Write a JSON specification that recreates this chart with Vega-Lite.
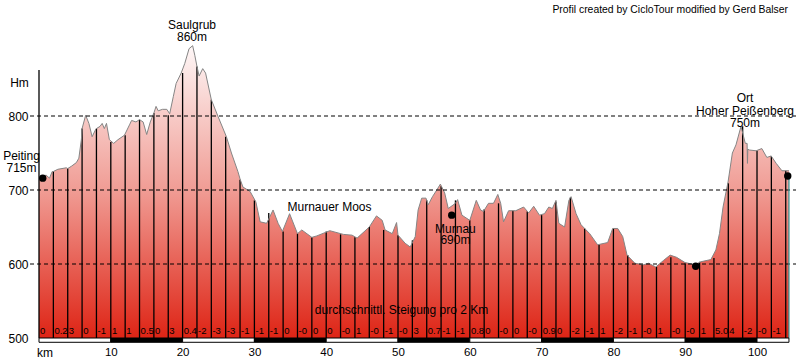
{
  "$schema": "https://vega.github.io/schema/vega-lite/v6.json",
  "width": 757,
  "height": 338,
  "autosize": "none",
  "padding": {"left": 39, "top": 0, "right": 0, "bottom": 23},
  "background": "white",
  "config": {
    "view": {"stroke": null},
    "font": "Liberation Sans",
    "axis": {"domain": false, "ticks": false, "grid": false, "labelColor": "#000000", "labelFont": "Liberation Sans"}
  },
  "datasets": {
    "profile": [
      {"km":0,"m":716},{"km":0.6,"m":719},{"km":1.0,"m":720},{"km":1.46,"m":716},{"km":1.84,"m":725},{"km":2.0,"m":725},
      {"km":2.63,"m":728},{"km":3.8,"m":730},{"km":4.0,"m":729},{"km":4.5,"m":732},{"km":5.2,"m":737},{"km":5.55,"m":743},
      {"km":5.9,"m":768},{"km":6.0,"m":783},{"km":6.5,"m":801},{"km":6.95,"m":790},{"km":7.4,"m":772},{"km":7.9,"m":782},
      {"km":8.0,"m":783},{"km":8.5,"m":786},{"km":8.8,"m":790},{"km":9.1,"m":783},{"km":9.4,"m":790},{"km":9.8,"m":768},
      {"km":10.4,"m":763},{"km":11.0,"m":768},{"km":11.9,"m":774},{"km":12.6,"m":788},{"km":12.9,"m":794},{"km":13.5,"m":792},
      {"km":14.0,"m":795},{"km":14.5,"m":792},{"km":15.0,"m":775},{"km":15.5,"m":792},{"km":16.0,"m":804},{"km":16.3,"m":813},
      {"km":16.6,"m":807},{"km":17.2,"m":809},{"km":17.8,"m":809},{"km":18.2,"m":803},{"km":18.7,"m":826},{"km":19.1,"m":844},
      {"km":19.8,"m":858},{"km":20.3,"m":871},{"km":20.9,"m":891},{"km":21.4,"m":895},{"km":21.7,"m":882},{"km":22.0,"m":867},
      {"km":22.3,"m":854},{"km":22.8,"m":864},{"km":23.2,"m":858},{"km":24.0,"m":822},{"km":24.95,"m":799},{"km":26.1,"m":772},
      {"km":26.8,"m":750},{"km":27.7,"m":725},{"km":28.0,"m":715},{"km":28.4,"m":704},{"km":29.4,"m":698},{"km":30.2,"m":684},
      {"km":30.8,"m":657},{"km":31.7,"m":655},{"km":32.6,"m":673},{"km":33.3,"m":655},{"km":33.9,"m":644},{"km":34.9,"m":668},
      {"km":36.0,"m":641},{"km":36.6,"m":646},{"km":38.0,"m":636},{"km":38.7,"m":638},{"km":40.5,"m":645},{"km":42.4,"m":640},
      {"km":43.6,"m":639},{"km":44.3,"m":635},{"km":46.0,"m":650},{"km":47.0,"m":665},{"km":47.8,"m":659},{"km":48.2,"m":646},
      {"km":49.2,"m":641},{"km":49.8,"m":656},{"km":50.0,"m":639},{"km":51.0,"m":628},{"km":51.7,"m":623},{"km":52.4,"m":637},
      {"km":52.8,"m":673},{"km":53.3,"m":689},{"km":53.9,"m":689},{"km":54.2,"m":680},{"km":54.8,"m":691},{"km":55.4,"m":700},
      {"km":55.9,"m":708},{"km":56.5,"m":696},{"km":57.0,"m":675},{"km":58.0,"m":682},{"km":58.3,"m":687},{"km":58.9,"m":666},
      {"km":60.0,"m":659},{"km":60.9,"m":686},{"km":61.5,"m":673},{"km":61.9,"m":671},{"km":62.6,"m":682},{"km":63.3,"m":682},
      {"km":63.9,"m":694},{"km":64.3,"m":682},{"km":64.7,"m":657},{"km":65.4,"m":672},{"km":66.4,"m":672},{"km":67.5,"m":677},
      {"km":68.2,"m":669},{"km":68.9,"m":678},{"km":69.7,"m":666},{"km":70.4,"m":668},{"km":71.0,"m":677},{"km":71.5,"m":675},
      {"km":72.0,"m":686},{"km":72.4,"m":655},{"km":73.2,"m":650},{"km":73.8,"m":686},{"km":74.1,"m":691},{"km":74.8,"m":668},
      {"km":75.5,"m":653},{"km":76.7,"m":641},{"km":77.8,"m":626},{"km":79.2,"m":629},{"km":79.9,"m":648},{"km":80.6,"m":648},
      {"km":81.3,"m":637},{"km":81.9,"m":612},{"km":83.0,"m":601},{"km":84.2,"m":599},{"km":84.9,"m":601},{"km":85.9,"m":596},
      {"km":87.0,"m":605},{"km":87.9,"m":612},{"km":88.8,"m":609},{"km":89.97,"m":602},{"km":91.37,"m":599},{"km":92.17,"m":603},
      {"km":93.57,"m":606},{"km":94.27,"m":619},{"km":94.77,"m":641},{"km":95.27,"m":677},{"km":95.97,"m":711},{"km":96.57,"m":750},
      {"km":97.07,"m":761},{"km":97.77,"m":786},{"km":98.37,"m":763},{"km":98.62,"m":763},{"km":98.67,"m":736},{"km":98.72,"m":755},
      {"km":98.97,"m":754},{"km":99.87,"m":753},{"km":100.67,"m":756},{"km":101.37,"m":744},{"km":101.97,"m":746},{"km":102.67,"m":736},
      {"km":103.47,"m":726},{"km":104.45,"m":726}
    ],
    "ticks": [
      {"km":2,"m":725},{"km":4,"m":729},{"km":6,"m":783},{"km":8,"m":783},{"km":10,"m":765},{"km":12,"m":774},
      {"km":14,"m":795},{"km":16,"m":804},{"km":18,"m":801},{"km":20,"m":858},{"km":22,"m":867},{"km":24,"m":822},
      {"km":26,"m":772},{"km":28,"m":714},{"km":30,"m":686},{"km":32,"m":669},{"km":34,"m":644},{"km":36,"m":641},
      {"km":38,"m":636},{"km":40,"m":644},{"km":42,"m":640},{"km":44,"m":636},{"km":46,"m":650},{"km":48,"m":646},
      {"km":50,"m":639},{"km":52,"m":632},{"km":54,"m":686},{"km":56,"m":705},{"km":58,"m":686},{"km":60,"m":659},
      {"km":62,"m":674},{"km":64,"m":682},{"km":66,"m":672},{"km":68,"m":671},{"km":70,"m":666},{"km":72,"m":684},
      {"km":74,"m":690},{"km":76,"m":648},{"km":78,"m":626},{"km":80,"m":648},{"km":82,"m":612},{"km":84,"m":599},
      {"km":86,"m":596},{"km":88,"m":609},{"km":90,"m":601},{"km":92,"m":603},{"km":94,"m":608},{"km":96,"m":709},
      {"km":98,"m":786},{"km":100,"m":753},{"km":102,"m":746},{"km":104,"m":726}
    ],
    "grad": [
      {"km":0.15,"t":"0"},{"km":2.15,"t":"0.2"},{"km":4.15,"t":"3"},{"km":6.15,"t":"0"},{"km":8.15,"t":"-1"},{"km":10.15,"t":"1"},
      {"km":12.15,"t":"1"},{"km":14.15,"t":"0.5"},{"km":16.15,"t":"0"},{"km":18.15,"t":"3"},{"km":20.15,"t":"0.4"},{"km":22.15,"t":"-2"},
      {"km":24.15,"t":"-3"},{"km":26.15,"t":"-3"},{"km":28.15,"t":"-1"},{"km":30.15,"t":"-1"},{"km":32.15,"t":"-1"},{"km":34.15,"t":"0"},
      {"km":36.15,"t":"-0"},{"km":38.15,"t":"0"},{"km":40.15,"t":"0"},{"km":42.15,"t":"-0"},{"km":44.15,"t":"1"},{"km":46.15,"t":"-0"},
      {"km":48.15,"t":"-1"},{"km":50.15,"t":"-0"},{"km":52.15,"t":"3"},{"km":54.15,"t":"0.7"},{"km":56.15,"t":"-1"},{"km":58.15,"t":"-1"},
      {"km":60.15,"t":"0.8"},{"km":62.15,"t":"0"},{"km":64.15,"t":"-0"},{"km":66.15,"t":"0"},{"km":68.15,"t":"-0"},{"km":70.15,"t":"0.9"},
      {"km":72.15,"t":"0"},{"km":74.15,"t":"-2"},{"km":76.15,"t":"-1"},{"km":78.15,"t":"1"},{"km":80.15,"t":"-2"},{"km":82.15,"t":"-1"},
      {"km":84.15,"t":"-0"},{"km":86.15,"t":"1"},{"km":88.15,"t":"-0"},{"km":90.15,"t":"-0"},{"km":92.15,"t":"1"},{"km":94.15,"t":"5.0"},
      {"km":96.15,"t":"4"},{"km":98.15,"t":"-2"},{"km":100.15,"t":"-0"},{"km":102.15,"t":"-1"}
    ],
    "bands": [
      {"a":0,"b":10,"tone":"light"},{"a":10,"b":20,"tone":"dark"},{"a":20,"b":30,"tone":"light"},{"a":30,"b":40,"tone":"dark"},
      {"a":40,"b":50,"tone":"light"},{"a":50,"b":60,"tone":"dark"},{"a":60,"b":70,"tone":"light"},{"a":70,"b":80,"tone":"dark"},
      {"a":80,"b":90,"tone":"light"},{"a":90,"b":100,"tone":"dark"},{"a":100,"b":104.45,"tone":"light"}
    ],
    "grid": [{"m":600},{"m":700},{"m":800}],
    "dots": [{"km":0.52,"m":716},{"km":57.48,"m":666},{"km":91.46,"m":597},{"km":104.28,"m":719}],
    "places": [
      {"km":21.31,"m":923,"t":"Saulgrub"},{"km":21.31,"m":906.8,"t":"860m"},
      {"km":-2.44,"m":745.9,"t":"Peiting"},{"km":-2.44,"m":729.3,"t":"715m"},
      {"km":40.46,"m":677.4,"t":"Murnauer Moos"},
      {"km":58.0,"m":647.3,"t":"Murnau"},{"km":58.0,"m":632.4,"t":"690m"},
      {"km":98.33,"m":823.9,"t":"Ort"},{"km":98.33,"m":807.2,"t":"Hoher Peißenberg"},{"km":98.33,"m":791,"t":"750m"},
      {"km":-2.72,"m":845,"t":"Hm"},
      {"km":50.49,"m":537.8,"t":"durchschnittl. Steigung pro 2 Km"}
    ]
  },
  "layer": [
    {
      "data": {"name": "profile"},
      "mark": {"type": "area", "color": {"gradient": "linear", "x1": 0, "y1": 0, "x2": 0, "y2": 1,
        "stops": [{"offset": 0, "color": "#fef7f7"}, {"offset": 0.5, "color": "#f09b93"}, {"offset": 1, "color": "#de2415"}]}},
      "encoding": {
        "x": {"field": "km", "type": "quantitative", "title": null, "scale": {"domain": [0, 105.43], "nice": false, "zero": false},
          "axis": {"values": [10,20,30,40,50,60,70,80,90,100], "title": null, "labelFontSize": 11.5, "labelBaseline": "middle", "labelPadding": 14.5, "labelFlush": false}},
        "y": {"field": "m", "type": "quantitative", "title": null, "scale": {"domain": [500, 956.76], "nice": false, "zero": false},
          "axis": {"values": [500,600,700,800], "title": null, "labelFontSize": 12, "labelBaseline": "middle", "labelPadding": 11}},
        "y2": {"datum": 500}
      }
    },
    {
      "data": {"name": "ticks"},
      "mark": {"type": "rule", "color": "#000000", "strokeWidth": 1.3},
      "encoding": {
        "x": {"field": "km", "type": "quantitative", "title": null},
        "y": {"field": "m", "type": "quantitative", "title": null},
        "y2": {"datum": 500}
      }
    },
    {
      "data": {"name": "profile"},
      "mark": {"type": "line", "color": "#858585", "strokeWidth": 1},
      "encoding": {
        "x": {"field": "km", "type": "quantitative", "title": null},
        "y": {"field": "m", "type": "quantitative", "title": null}
      }
    },
    {
      "data": {"name": "grid"},
      "mark": {"type": "rule", "color": "#000000", "strokeWidth": 1, "strokeDash": [4, 3]},
      "encoding": {
        "x": {"datum": -1.25, "type": "quantitative", "title": null},
        "x2": {"datum": 105.43},
        "y": {"field": "m", "type": "quantitative", "title": null}
      }
    },
    {
      "data": {"values": [{"km": 0, "lo": 500, "hi": 862}]},
      "mark": {"type": "rule", "color": "#000000", "strokeWidth": 1.3},
      "encoding": {
        "x": {"field": "km", "type": "quantitative", "title": null},
        "y": {"field": "lo", "type": "quantitative", "title": null},
        "y2": {"field": "hi"}
      }
    },
    {
      "data": {"values": [{"km": 104.45, "lo": 500, "hi": 719}]},
      "mark": {"type": "rule", "color": "#2f9595", "strokeWidth": 1.2},
      "encoding": {
        "x": {"field": "km", "type": "quantitative", "title": null},
        "y": {"field": "lo", "type": "quantitative", "title": null},
        "y2": {"field": "hi"}
      }
    },
    {
      "data": {"name": "bands"},
      "mark": {"type": "rect", "stroke": "#000000", "strokeWidth": 1},
      "encoding": {
        "x": {"field": "a", "type": "quantitative", "title": null},
        "x2": {"field": "b"},
        "y": {"datum": 500, "type": "quantitative", "title": null},
        "y2": {"datum": 494.2},
        "fill": {"field": "tone", "type": "nominal", "scale": {"domain": ["light", "dark"], "range": ["#ffffff", "#000000"]}, "legend": null}
      }
    },
    {
      "data": {"name": "dots"},
      "mark": {"type": "circle", "color": "#000000", "opacity": 1, "size": 55},
      "encoding": {
        "x": {"field": "km", "type": "quantitative", "title": null},
        "y": {"field": "m", "type": "quantitative", "title": null}
      }
    },
    {
      "data": {"name": "grad"},
      "mark": {"type": "text", "align": "left", "baseline": "middle", "fontSize": 9.5, "color": "#000000"},
      "encoding": {
        "x": {"field": "km", "type": "quantitative", "title": null},
        "y": {"datum": 509.9, "type": "quantitative", "title": null},
        "text": {"field": "t"}
      }
    },
    {
      "data": {"name": "places"},
      "mark": {"type": "text", "align": "center", "baseline": "middle", "fontSize": 12, "color": "#000000"},
      "encoding": {
        "x": {"field": "km", "type": "quantitative", "title": null},
        "y": {"field": "m", "type": "quantitative", "title": null},
        "text": {"field": "t"}
      }
    },
    {
      "data": {"values": [{"km": 0.84, "m": 480.1, "t": "km"}]},
      "mark": {"type": "text", "align": "center", "baseline": "middle", "fontSize": 12, "color": "#000000"},
      "encoding": {
        "x": {"field": "km", "type": "quantitative", "title": null},
        "y": {"field": "m", "type": "quantitative", "title": null},
        "text": {"field": "t"}
      }
    },
    {
      "data": {"values": [{"km": 104.32, "m": 942.6, "t": "Profil created by CicloTour modified by Gerd Balser"}]},
      "mark": {"type": "text", "align": "right", "baseline": "middle", "fontSize": 10.4, "color": "#000000"},
      "encoding": {
        "x": {"field": "km", "type": "quantitative", "title": null},
        "y": {"field": "m", "type": "quantitative", "title": null},
        "text": {"field": "t"}
      }
    }
  ]
}
